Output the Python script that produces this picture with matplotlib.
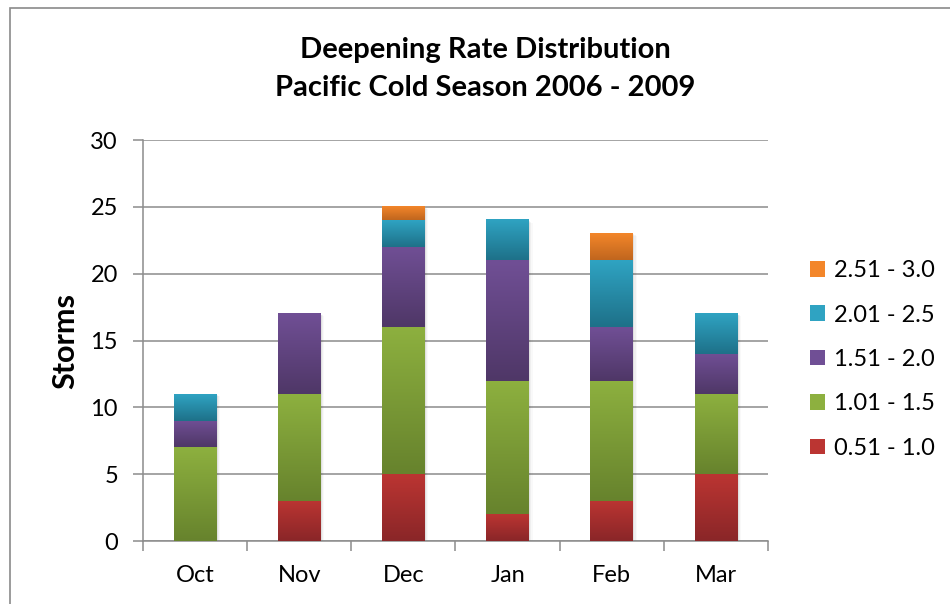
import matplotlib.pyplot as plt
import numpy as np
from matplotlib.colors import LinearSegmentedColormap
from matplotlib.patches import Patch, Rectangle

months = ['Oct', 'Nov', 'Dec', 'Jan', 'Feb', 'Mar']
rate_bins = ['0.51 - 1.0', '1.01 - 1.5', '1.51 - 2.0', '2.01 - 2.5', '2.51 - 3.0']

# storms per month for each deepening-rate bin
rate_051_100 = [0, 3, 5, 2, 3, 5]
rate_101_150 = [7, 8, 11, 10, 9, 6]
rate_151_200 = [2, 6, 6, 9, 4, 3]
rate_201_250 = [2, 0, 2, 3, 5, 3]
rate_251_300 = [0, 0, 1, 0, 2, 0]

# (top colour, bottom colour) for the vertical gradient in each bin
bin_colors = [
    ('#bb3532', '#8a2628'),
    ('#8db03f', '#67832d'),
    ('#704f95', '#4f3767'),
    ('#2fa3c2', '#1e7189'),
    ('#f3862a', '#c0661e'),
]

plt.rcParams['font.family'] = ['Lato', 'DejaVu Sans']

fig = plt.figure(figsize=(9.5, 6.04), dpi=100)
ax = fig.add_axes([0.1505, 0.1043, 0.6579, 0.6639])

# outer chart frame
fig.patches.append(Rectangle((10 / 950, -0.05), 1.2, 1 - 8 / 604 + 0.05,
                             transform=fig.transFigure, fill=False,
                             edgecolor='#8a8a8a', linewidth=1.2))

series = [rate_051_100, rate_101_150, rate_151_200, rate_201_250, rate_251_300]
x = np.arange(len(months))
width = 0.41
bottom = np.zeros(len(months))
grad = np.linspace(1, 0, 64).reshape(-1, 1)

for vals, (c_top, c_bot) in zip(series, bin_colors):
    cmap = LinearSegmentedColormap.from_list('g', [c_bot, c_top])
    bars = ax.bar(x, vals, width, bottom=bottom, color='none', linewidth=0, zorder=3)
    for b in bars:
        h = b.get_height()
        if h <= 0:
            continue
        x0, y0 = b.get_x(), b.get_y()
        # soft drop shadow
        for k, a in enumerate([0.06, 0.04, 0.025]):
            off = 0.012 * (k + 1)
            ax.add_patch(Rectangle((x0 + off, y0 - 0.06 * (k + 1)), width, h,
                                   facecolor='k', alpha=a, linewidth=0, zorder=2))
        ax.imshow(grad[::-1], cmap=cmap, aspect='auto', extent=[x0, x0 + width, y0, y0 + h],
                  origin='lower', zorder=3, interpolation='bicubic')
    bottom += np.array(vals)

ax.set_xlim(-0.5, len(months) - 0.5)
ax.set_ylim(0, 30)
ax.set_yticks(np.arange(0, 31, 5))
ax.set_xticks(x)
ax.set_xticklabels(months)
ax.set_xticks(np.arange(-0.5, len(months)), minor=True)

ax.grid(axis='y', color='#8c8c8c', linewidth=1.1, zorder=0)
ax.set_axisbelow(True)
for s in ['top', 'right']:
    ax.spines[s].set_visible(False)
for s in ['left', 'bottom']:
    ax.spines[s].set_color('#8c8c8c')
    ax.spines[s].set_linewidth(1.1)

ax.tick_params(axis='y', length=7, width=1.1, color='#8c8c8c', labelsize=17, pad=11)
ax.tick_params(axis='x', which='major', length=0, labelsize=17, pad=17)
ax.tick_params(axis='x', which='minor', length=7, width=1.1, color='#8c8c8c')

ax.set_ylabel('Storms', fontsize=22, fontweight='bold', labelpad=8)
fig.text(0.511, 0.886, 'Deepening Rate Distribution\nPacific Cold Season 2006 - 2009',
         ha='center', va='center', fontsize=21, fontweight='bold', linespacing=1.6)

handles = [Patch(facecolor=c_top, edgecolor='none') for c_top, _ in bin_colors]
fig.legend(handles[::-1], rate_bins[::-1], loc='center left',
           bbox_to_anchor=(0.853, 0.405), frameon=False, fontsize=17,
           handlelength=0.64, handleheight=0.64, handletextpad=0.35,
           labelspacing=0.99, borderaxespad=0, borderpad=0)

fig.savefig('out.png', dpi=100)
